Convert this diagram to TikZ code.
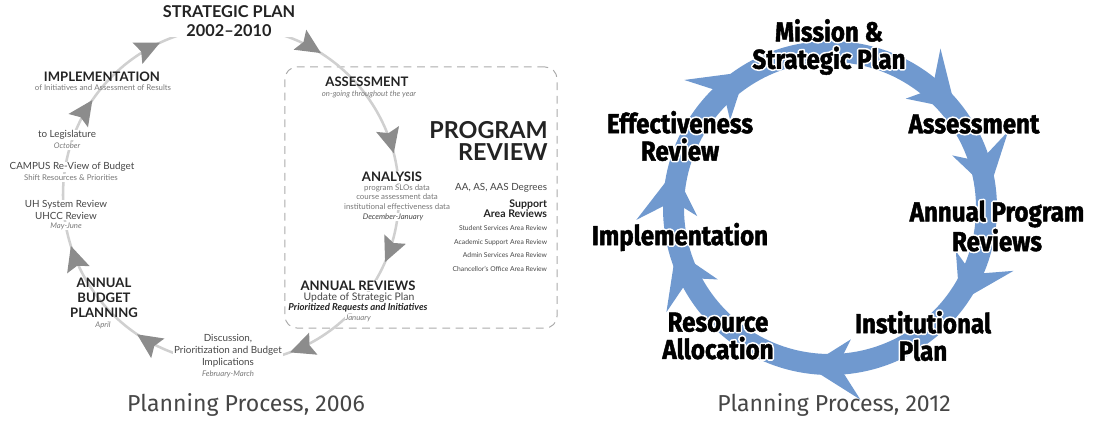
\documentclass[tikz,border=0pt]{standalone}
\usepackage{fontspec}
\setmainfont{Lato}
\newfontfamily\ringfont{Fira Sans}[FakeStretch=0.88]
\newfontfamily\capfont{Fira Sans}
\usetikzlibrary{arrows.meta, positioning, decorations.markings}
\definecolor{ringblue}{RGB}{112,153,207}
\definecolor{arcgray}{RGB}{208,208,208}
\definecolor{headgray}{RGB}{140,140,140}
\definecolor{boxgray}{RGB}{170,170,170}
\definecolor{inkdark}{RGB}{35,35,35}
\definecolor{inkmid}{RGB}{70,70,70}
\definecolor{inklight}{RGB}{120,120,120}
% white outline under the text, then the text with a thin black stroke
\newcommand{\halo}[1]{\rlap{\special{pdf:literal direct 1 j 2.6 w 1 1 1 RG 1 Tr}#1}\special{pdf:literal direct 0.3 w 0 0 0 RG 2 Tr}#1\special{pdf:literal direct 0 Tr}}
\newcommand{\ringhead}[1]{\fill[ringblue] (#1-16:160) -- (#1+1:194) -- (#1-5:157) -- (#1+1:133) -- cycle;}
\tikzset{loophead/.tip={Stealth[length=0.62cm, width=0.58cm, inset=0.1cm, color=headgray]}}

\begin{document}
\begin{tikzpicture}[
    x=0.025cm, y=0.025cm,
    bighead/.style={font=\fontsize{11.6}{13.5}\selectfont\bfseries, text=inkdark, align=center, inner sep=0.5pt},
    heading/.style={font=\fontsize{9.3}{10.7}\selectfont\bfseries, text=inkdark, align=center, inner sep=0.5pt},
    body/.style={font=\fontsize{7}{8.5}\selectfont, text=inkmid, align=center, inner sep=0.5pt},
    note/.style={font=\fontsize{5.6}{6.8}\selectfont, text=inklight, align=center, inner sep=0.5pt},
    when/.style={font=\fontsize{5.5}{6.5}\selectfont\itshape, text=inklight, align=center, inner sep=0.5pt},
    stage/.style={font=\ringfont\fontsize{19.5}{19.5}\selectfont\bfseries, align=center, inner sep=0pt},
    caption/.style={font=\capfont\fontsize{16.4}{18}\selectfont, text=inkmid, inner sep=0pt},
    arcline/.style={arcgray, line width=1.8pt},
    prframe/.style={draw=boxgray, line width=0.7pt, dash pattern=on 5.5pt off 4pt, rounded corners=0.3cm}
]
\useasboundingbox (0,0) rectangle (1108,421);

% 2006 cycle
\node (prbox) [prframe, minimum width=6.8cm, minimum height=6.525cm] at (421,223.5) {};
\draw[arcline, postaction={decorate}, decoration={markings,
    mark=at position 0.0956 with {\arrow{loophead}},
    mark=at position 0.1806 with {\arrow{loophead}},
    mark=at position 0.34 with {\arrow{loophead}},
    mark=at position 0.46 with {\arrow{loophead}},
    mark=at position 0.5653 with {\arrow{loophead}},
    mark=at position 0.693 with {\arrow{loophead}},
    mark=at position 0.8444 with {\arrow{loophead}},
    mark=at position 0.951 with {\arrow{loophead}}}]
    (231,226) ++(180:168) arc[start angle=180, end angle=-180, radius=168];

\node (stratplan) [bighead, fill=white] at (229,400) {STRATEGIC PLAN\\2002--2010};
\node (impl) [heading] at (102,344) {IMPLEMENTATION};
\node (implnote) [note] at (103,333) {of Initiatives and Assessment of Results};
\node (legis) [body, fill=white] at (67,286) {to Legislature};
\node (legiswhen) [when, fill=white] at (67,275) {October};
\node (campus) [body, fill=white] at (72,254) {CAMPUS Re-View of Budget};
\node (campusnote) [note, fill=white] at (71,243) {Shift Resources \& Priorities};
\node (uhsys) [body, fill=white] at (66,211) {UH System Review\\UHCC Review};
\node (uhsyswhen) [when, fill=white] at (66,195) {May-June};
\node (budget) [heading] at (104,123) {ANNUAL\\BUDGET\\PLANNING};
\node (budgetwhen) [when] at (103,96) {April};
\node (discuss) [body, fill=white] at (228,70) {Discussion,\\Prioritization and Budget\\Implications};
\node (discusswhen) [when, fill=white] at (228,47) {February-March};

\node (assess) [heading] at (367,339) {ASSESSMENT};
\node (assesswhen) [when] at (369,327) {on-going throughout the year};
\node (analysis) [heading, fill=white] at (392,244) {ANALYSIS};
\node (analysisnote) [note, fill=white] at (397,224) {program SLOs data\\course assessment data\\institutional effectiveness data};
\node (analysiswhen) [when, fill=white, text=inkmid] at (393,204) {December-January};
\node (annrev) [heading, fill=white] at (358,135.5) {ANNUAL REVIEWS};
\node (annrevbody) [body, fill=white, font=\fontsize{7.4}{8.5}\selectfont] at (359,123.5) {Update of Strategic Plan};
\node (annrevreq) [body, fill=white, text=inkdark, font=\fontsize{6.8}{7.5}\selectfont\bfseries\itshape] at (358,113.5) {Prioritized Requests and Initiatives};
\node (annrevwhen) [when, fill=white] at (358,103) {January};

\node (progrev) [font=\fontsize{16.6}{15.6}\selectfont\bfseries, text=inkdark, align=right, anchor=east, inner sep=0pt] at (548,280) {PROGRAM\\REVIEW};
\node (degrees) [body, anchor=east] at (548,233) {AA, AS, AAS Degrees};
\node (support) [heading, align=right, anchor=east, font=\fontsize{7.5}{7.1}\selectfont\bfseries] at (548,212) {Support\\Area Reviews};
\node (arealist) [note, align=right, anchor=east, text=inkmid, font=\fontsize{4.8}{9.7}\selectfont] at (548,172.5) {Student Services Area Review\\Academic Support Area Review\\Admin Services Area Review\\Chancellor’s Office Area Review};

\node (cap06) [caption] at (246,16) {Planning Process, 2006};

% 2012 cycle
\begin{scope}[shift={(830,213)}]
  \draw[ringblue, line width=0.525cm] (0,0) circle[radius=156.5];
  \foreach \a in {137.7, 54.3, 22.3, -19.9, -82, 211.5, 182.5} {\ringhead{\a}}
\end{scope}

\node (mission) [stage] at (829,374) {\halo{Mission \&}\\\halo{Strategic Plan}};
\node (assess12) [stage] at (974,297) {\halo{Assessment}};
\node (apr) [stage] at (997,195) {\halo{Annual Program}\\\halo{Reviews}};
\node (instplan) [stage] at (923,85) {\halo{Institutional}\\\halo{Plan}};
\node (resalloc) [stage] at (718,85) {\halo{Resource}\\\halo{Allocation}};
\node (implem) [stage] at (680,184) {\halo{Implementation}};
\node (effrev) [stage] at (680,285) {\halo{Effectiveness}\\\halo{Review}};

\node (cap12) [caption] at (834,16) {Planning Process, 2012};
\end{tikzpicture}
\end{document}
